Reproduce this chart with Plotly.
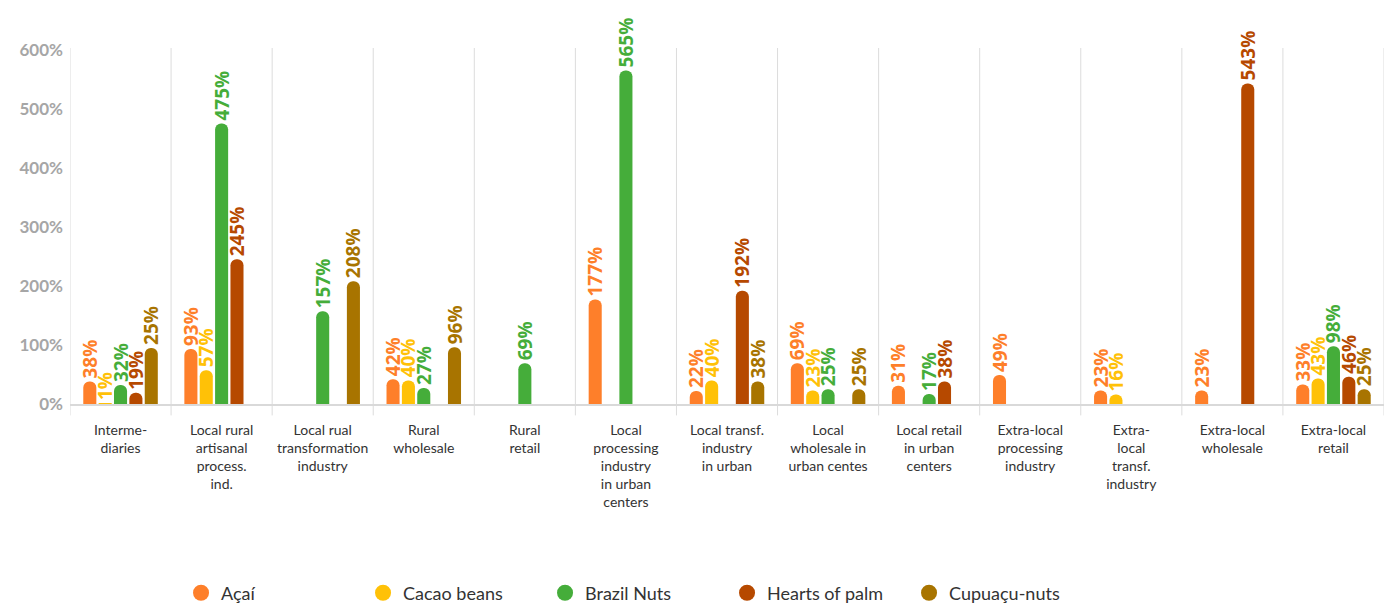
import plotly.graph_objects as go

categories = [
    "Interme-<br>diaries",
    "Local rural<br>artisanal<br>process.<br>ind.",
    "Local rual<br>transformation<br>industry",
    "Rural<br>wholesale",
    "Rural<br>retail",
    "Local<br>processing<br>industry<br>in urban<br>centers",
    "Local transf.<br>industry<br>in urban",
    "Local<br>wholesale in<br>urban centes",
    "Local retail<br>in urban<br>centers",
    "Extra-local<br>processing<br>industry",
    "Extra-<br>local<br>transf.<br>industry",
    "Extra-local<br>wholesale",
    "Extra-local<br>retail",
]

series_names = ["Açaí", "Cacao beans", "Brazil Nuts", "Hearts of palm", "Cupuaçu-nuts"]
series_colors = ["#fe7f2a", "#ffc107", "#45ad3a", "#b64900", "#a87400"]

# bar heights (%) as drawn
acai = [38, 93, None, 42, None, 177, 22, 69, 31, 49, 23, 23, 33]
cacao = [1, 57, None, 40, None, None, 40, 23, None, None, 16, None, 43]
brazil = [32, 475, 157, 27, 69, 565, None, 25, 17, None, None, None, 98]
hearts = [19, 245, None, None, None, None, 192, None, 38, None, None, 543, 46]
cupuacu = [95, None, 208, 96, None, None, 38, 25, None, None, None, None, 25]

# value labels as printed (the Intermediaries Cupuaçu label differs from its bar)
acai_labels = [38, 93, None, 42, None, 177, 22, 69, 31, 49, 23, 23, 33]
cacao_labels = [1, 57, None, 40, None, None, 40, 23, None, None, 16, None, 43]
brazil_labels = [32, 475, 157, 27, 69, 565, None, 25, 17, None, None, None, 98]
hearts_labels = [19, 245, None, None, None, None, 192, None, 38, None, None, 543, 46]
cupuacu_labels = [25, None, 208, 96, None, None, 38, 25, None, None, None, None, 25]

y_ticks = [0, 100, 200, 300, 400, 500, 600]

all_values = [acai, cacao, brazil, hearts, cupuacu]
all_labels = [acai_labels, cacao_labels, brazil_labels, hearts_labels, cupuacu_labels]

FONT = "Lato"
fig = go.Figure()

for name, color, vals, labs in zip(series_names, series_colors, all_values, all_labels):
    fig.add_trace(go.Bar(
        x=categories, y=vals, name=name,
        marker=dict(color=color, line=dict(width=0)),
        text=[f"{v}%" if v is not None else "" for v in labs],
        textposition="outside", textangle=-90,
        textfont=dict(color=color, size=19, family="Open Sans", weight="bold"),
        constraintext="none", cliponaxis=False,
        showlegend=False, hoverinfo="skip",
    ))

for name, color in zip(series_names, series_colors):
    fig.add_trace(go.Scatter(
        x=[None], y=[None], name=name, mode="markers",
        marker=dict(color=color, size=16, symbol="circle"),
        showlegend=True,
    ))

# category separators
for i in range(len(categories) + 1):
    fig.add_shape(type="line", xref="x", yref="paper",
                  x0=i - 0.5, x1=i - 0.5, y0=-0.032, y1=1,
                  line=dict(color="#dcdcdc", width=1), layer="below")

fig.update_layout(
    width=1384, height=603,
    margin=dict(l=70, r=0, t=48, b=199, autoexpand=False),
    plot_bgcolor="white", paper_bgcolor="white",
    barmode="group", bargap=0.24, bargroupgap=0.15,
    barcornerradius=7,
    font=dict(family=FONT, color="#333333"),
    xaxis=dict(
        type="category", range=[-0.5, len(categories) - 0.5],
        showgrid=False, showline=True, linecolor="#d9d9d9", linewidth=1.5,
        ticks="", tickfont=dict(size=14, color="#333333", family=FONT),
        ticklabelstandoff=12, automargin=False,
        zeroline=False,
    ),
    yaxis=dict(
        range=[0, 603], tickvals=y_ticks, ticktext=[f"{t}%" for t in y_ticks],
        showgrid=False, zeroline=False, showline=False,
        tickfont=dict(size=17, color="#a6a6a6", family=FONT, weight="bold"),
        ticklabelstandoff=6, automargin=False,
    ),
    legend=dict(
        orientation="h", x=0.0845, xanchor="left", y=-0.531, yanchor="middle",
        font=dict(size=18, color="#333333", family=FONT),
        entrywidth=137, entrywidthmode="pixels",
    ),
)

fig.write_html("out.html")
